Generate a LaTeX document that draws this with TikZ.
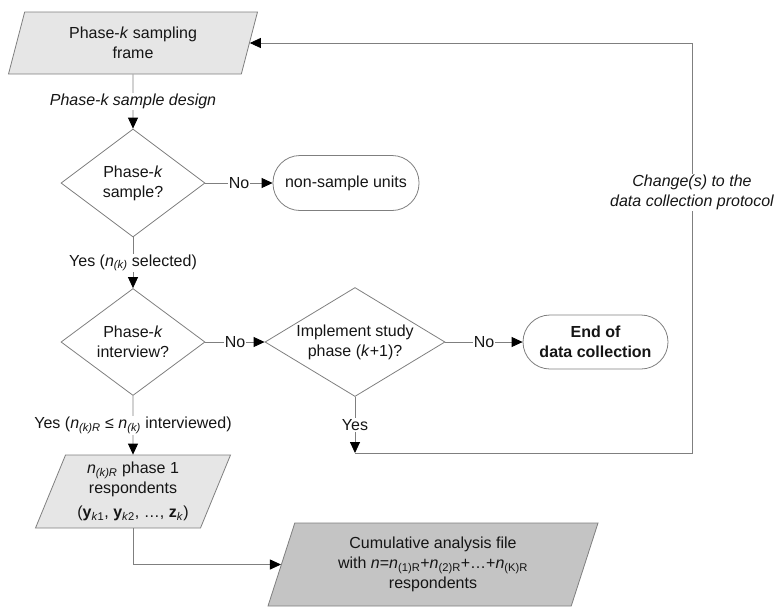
\documentclass[tikz,border=0pt]{standalone}
\usepackage{fontspec}
\setmainfont{Liberation Sans}
\usetikzlibrary{shapes.geometric,arrows.meta}
\definecolor{edgegray}{HTML}{7F7F7F}
\definecolor{framefill}{HTML}{E6E6E6}
\definecolor{cumfill}{HTML}{C4C4C4}
\definecolor{inkcol}{HTML}{151515}
\newcommand{\bodyfont}{\fontsize{16}{20}\selectfont}
\begin{document}
\begin{tikzpicture}[x=1pt,y=-1pt,
  every node/.style={font=\bodyfont, text=inkcol},
  shapeline/.style={draw=edgegray, line width=0.8pt},
  datanode/.style={shapeline, trapezium, trapezium left angle=63,
    trapezium right angle=117, trapezium stretches body,
    inner sep=0pt, align=center},
  decision/.style={shapeline, diamond, inner sep=0pt, align=center},
  terminal/.style={shapeline, rectangle, rounded corners=27pt,
    inner sep=0pt, align=center},
  link/.style={draw=edgegray, line width=0.8pt},
  flow/.style={link, -{Triangle[length=11pt,width=10pt,color=black]}},
  tag/.style={fill=white, inner sep=1pt},
]
\useasboundingbox (0,0) rectangle (775,606);

% data stores
\node[datanode, fill=framefill, minimum width=249pt, minimum height=62pt]
  (frame) at (133,43) {Phase-\textit{k} sampling\\frame};
\node[datanode, fill=framefill, minimum width=195pt, minimum height=73pt]
  (resp) at (133,491.5)
  {\textit{n}\textsubscript{\textit{(k)R}} phase 1\\respondents\\[4pt]
   (\textbf{y}\textsubscript{\textit{k}1}, \textbf{y}\textsubscript{\textit{k}2}, …, \textbf{z}\textsubscript{\textit{k}})};
\node[datanode, trapezium left angle=64, trapezium right angle=116,
  fill=cumfill, minimum width=330pt, minimum height=83pt]
  (cumul) at (433,564.5)
  {Cumulative analysis file\\
   with \textit{n}=\textit{n}\textsubscript{(1)R}+\textit{n}\textsubscript{(2)R}+…+\textit{n}\textsubscript{(K)R}\\
   respondents};

% decisions
\node[decision, aspect=1.333, minimum width=144pt, minimum height=108pt]
  (qsample) at (133,183) {Phase-\textit{k}\\sample?};
\node[decision, aspect=1.333, minimum width=144pt, minimum height=107pt]
  (qinterview) at (133,342) {Phase-\textit{k}\\interview?};
\node[decision, aspect=1.65, minimum width=180pt, minimum height=109pt]
  (qnext) at (355,342) {Implement study\\phase (\textit{k}+1)?};

% terminals
\node[terminal, minimum width=146pt, minimum height=55pt]
  (nonsample) at (346,183) {non-sample units};
\node[terminal, minimum width=145pt, minimum height=54pt,
  font=\bodyfont\bfseries]
  (stop) at (595.5,342) {End of\\data collection};

% loose ends of the feedback loop
\coordinate (yesend) at (355,453);
\coordinate (fbcorner) at (692,453);

% connectors
\draw[flow] (frame) -- node[tag, font=\bodyfont\itshape]
  {Phase-k sample design} (qsample);
\draw[flow] (qsample) -- node[tag] {No} (nonsample);
\draw[flow] (qsample) -- node[tag]
  {Yes (\textit{n}\textsubscript{\textit{(k)}} selected)} (qinterview);
\draw[flow] (qinterview) -- node[tag] {No} (qnext);
\draw[flow] (qnext) -- node[tag] {No} (stop);
\draw[flow] (qinterview) -- node[tag]
  {Yes (\textit{n}\textsubscript{\textit{(k)R}} ≤ \textit{n}\textsubscript{\textit{(k)}} interviewed)} (resp);
\draw[flow] (qnext) -- node[tag] {Yes} (yesend);
\draw[flow] (yesend) -- (fbcorner) |-
  node[pos=0.318, tag, align=center, font=\bodyfont\itshape]
  {Change(s) to the\\data collection protocol} (frame);
\draw[flow] (resp) |- (cumul);
\end{tikzpicture}
\end{document}
